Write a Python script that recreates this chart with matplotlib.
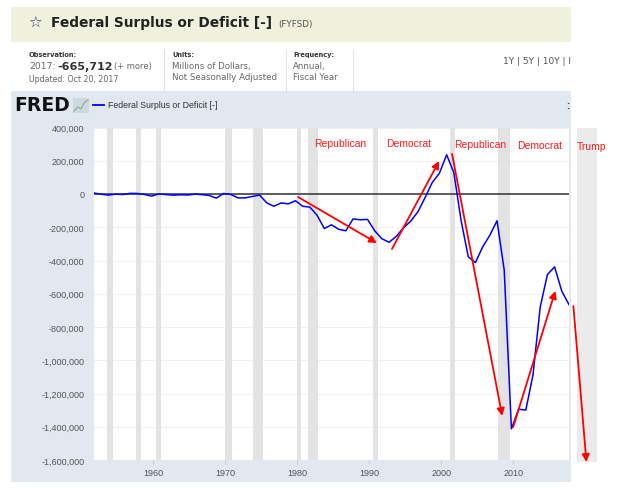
#!/usr/bin/env python
u"""
plot.py

FRED chart of the Federal Surplus or Deficit (FYFSD) with party annotations
"""
import numpy as np
import matplotlib
matplotlib.use('Agg')
import matplotlib.pyplot as plt
from matplotlib.patches import Rectangle
from matplotlib.lines import Line2D
from matplotlib.ticker import FuncFormatter

#-- fiscal years and surplus or deficit (millions of dollars)
years = list(range(1951, 2018))
surplus = [6102, -1519, -6493, -1154, -2993, 3947, 3412, -2769, -12849, 301,
    -3335, -7146, -4756, -5915, -1411, -3698, -8643, -25161, 3242, -2842,
    -23033, -23373, -14908, -6135, -53242, -73732, -53659, -59185, -40726,
    -73830, -78968, -127977, -207802, -185367, -212308, -221227, -149730,
    -155178, -152639, -221036, -269238, -290321, -255051, -203186, -163952,
    -107431, -21884, 69270, 125610, 236241, 128236, -157758, -377585,
    -412727, -318346, -248181, -160701, -458553, -1412688, -1294373,
    -1299593, -1086963, -679775, -484602, -438496, -584651, -665712]

#-- recession shading (decimal years)
rec_start = [1953.55, 1957.6, 1960.3, 1969.9, 1973.85, 1980.0, 1981.5,
    1990.55, 2001.2, 2007.9]
rec_end = [1954.4, 1958.3, 1961.1, 1970.9, 1975.2, 1980.55, 1982.9,
    1991.2, 2001.9, 2009.5]

#-- hand drawn annotations
party_labels = ['Republican', 'Democrat', 'Republican', 'Democrat', 'Trump']
label_x = [1986.0, 1995.5, 2005.4, 2013.6, 2020.9]
label_y = [307000, 307000, 301000, 295000, 289000]
arrow_from = [(1980.1, -18000), (1993.15, -331000), (2001.5, 241000),
    (2010.0, -1401000), (2018.36, -674000)]
arrow_to = [(1991.06, -295000), (1999.7, 198000), (2008.47, -1335000),
    (2015.85, -583000), (2020.17, -1612000)]
#-- empty column drawn beside the chart
trump_band = (2018.9, 2021.6)

W, H = 640., 489.
def fx(x):
    return x/W
def fy(y):
    return 1. - y/H

fig = plt.figure(figsize=(6.4, 4.89), dpi=100)
fig.patch.set_facecolor('white')
plt.rcParams['font.family'] = 'Liberation Sans'

#-- header bar
fig.add_artist(Rectangle((fx(11), fy(43)), fx(571)-fx(11), fy(8)-fy(43),
    transform=fig.transFigure, facecolor='#eff1dd', edgecolor='none', zorder=0))
fig.text(fx(28), fy(23), u'\u2606', family='DejaVu Sans', fontsize=11,
    color='#2a3a6a', va='center')
fig.text(fx(51), fy(23), 'Federal Surplus or Deficit [-]', family='DejaVu Sans',
    fontsize=9.9, fontweight='bold', color='#222222', va='center')
fig.text(fx(278), fy(24), '(FYFSD)', family='DejaVu Sans', fontsize=6.3,
    color='#555555', va='center')

#-- observation / units / frequency boxes
dark = '#333333'
grey = '#666666'
fig.text(fx(29), fy(55), 'Observation:', family='DejaVu Sans', fontsize=4.8,
    fontweight='bold', color=dark, va='center')
fig.text(fx(29), fy(67), '2017:', family='DejaVu Sans', fontsize=6.7,
    color=grey, va='center')
fig.text(fx(57), fy(67), '-665,712', family='DejaVu Sans', fontsize=8,
    fontweight='bold', color=dark, va='center')
fig.text(fx(114), fy(67), '(+ more)', family='DejaVu Sans', fontsize=6,
    color=grey, va='center')
fig.text(fx(29), fy(80), 'Updated: Oct 20, 2017', family='DejaVu Sans',
    fontsize=5.7, color=grey, va='center')

fig.text(fx(172), fy(55), 'Units:', family='DejaVu Sans', fontsize=4.8,
    fontweight='bold', color=dark, va='center')
fig.text(fx(172), fy(66), 'Millions of Dollars,', family='DejaVu Sans',
    fontsize=6.2, color=grey, va='center')
fig.text(fx(172), fy(78), 'Not Seasonally Adjusted', family='DejaVu Sans',
    fontsize=6.2, color=grey, va='center')

fig.text(fx(293), fy(55), 'Frequency:', family='DejaVu Sans', fontsize=4.8,
    fontweight='bold', color=dark, va='center')
fig.text(fx(293), fy(66), 'Annual,', family='DejaVu Sans', fontsize=6.2,
    color=grey, va='center')
fig.text(fx(293), fy(78), 'Fiscal Year', family='DejaVu Sans', fontsize=6.2,
    color=grey, va='center')

for xd in [164, 286, 353]:
    fig.add_artist(Line2D([fx(xd), fx(xd)], [fy(50), fy(92)],
        transform=fig.transFigure, color='#dde3ea', lw=0.8))

fig.text(fx(571), fy(62), '1Y | 5Y | 10Y | I', family='DejaVu Sans',
    fontsize=6.5, color='#555555', va='center', ha='right')

#-- chart panel
fig.add_artist(Rectangle((fx(11), fy(483)), fx(571)-fx(11), fy(92)-fy(483),
    transform=fig.transFigure, facecolor='#e1e8f0', edgecolor='none', zorder=0))
fig.text(fx(14), fy(106), 'FRED', family='DejaVu Sans', fontsize=13.5,
    fontweight='heavy', color='#111111', va='center')
#-- little graph icon next to the logo
fig.add_artist(Rectangle((fx(73), fy(114)), fx(89)-fx(73), fy(99)-fy(114),
    transform=fig.transFigure, facecolor='#cfd8e0', edgecolor='none'))
fig.add_artist(Line2D([fx(74), fx(78), fx(81), fx(84), fx(88)],
    [fy(112), fy(108), fy(110), fy(104), fy(101)],
    transform=fig.transFigure, color='#8fb88f', lw=1.0))
fig.add_artist(Line2D([fx(93), fx(104)], [fy(106), fy(106)],
    transform=fig.transFigure, color='#0000ff', lw=1.3))
fig.text(fx(108), fy(106), 'Federal Surplus or Deficit [-]', fontsize=6.3,
    color='#333333', va='center')
fig.text(fx(566), fy(106), ':', fontsize=7, fontweight='bold',
    color='#333333', va='center')

#-- main axes
ax = fig.add_axes([fx(94), fy(461), fx(569)-fx(94), fy(128.5)-fy(461)])
ax.set_facecolor('white')
#-- observations are dated at the end of each fiscal year
xdate = np.array(years) + 0.75
for s, e in zip(rec_start, rec_end):
    ax.axvspan(s, e, color='#e3e3e3', lw=0, zorder=1)
ax.plot(xdate, surplus, color='#0000ff', lw=1.1, zorder=4)
ax.axhline(0, color='#333333', lw=1.1, zorder=3)

ax.set_xlim(xdate[0], xdate[-1])
ax.set_ylim(-1600000, 400000)
ax.set_yticks(np.arange(-1600000, 400001, 200000))
ax.yaxis.set_major_formatter(FuncFormatter(lambda v, p: '{:,.0f}'.format(v)))
ax.set_xticks([1960, 1970, 1980, 1990, 2000, 2010])
ax.grid(axis='y', color='#f0f0f0', lw=0.8, zorder=0)
ax.set_axisbelow(True)
for sp in ax.spines.values():
    sp.set_visible(False)
ax.tick_params(axis='y', length=0, pad=7, labelsize=6.5, labelcolor='#555555')
ax.tick_params(axis='x', length=3, color='#c8d0d8', pad=3, labelsize=6.5,
    labelcolor='#555555')

#-- the extra empty column to the right of the chart
ax.add_patch(Rectangle((trump_band[0], -1612000), trump_band[1]-trump_band[0],
    2009000, facecolor='#ebebeb', edgecolor='none', clip_on=False, zorder=1))

#-- party labels and arrows
for lab, xl, yl in zip(party_labels, label_x, label_y):
    ax.text(xl, yl, lab, color='#ff1a1a', fontsize=7.5, ha='center',
        va='center', clip_on=False, zorder=6)
for p0, p1 in zip(arrow_from, arrow_to):
    ax.annotate('', xy=p1, xytext=p0, annotation_clip=False, zorder=6,
        arrowprops=dict(arrowstyle='-|>', color='#ff0000', lw=1.3,
            mutation_scale=11, shrinkA=0, shrinkB=0))

plt.savefig('out.png', dpi=100)
